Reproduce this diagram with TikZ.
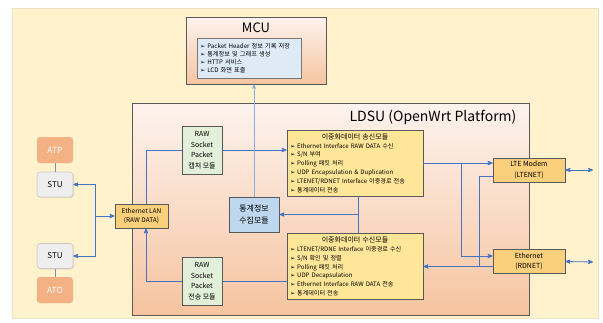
\documentclass[tikz,border=0pt]{standalone}
\usepackage{fontspec}
\setmainfont{Noto Sans CJK KR}
\newfontfamily\symfont{DejaVu Sans}
\usepackage{tikz}
\usetikzlibrary{arrows,shadows}
\definecolor{bg_cream}{RGB}{255,242,204}
\definecolor{bg_edge}{RGB}{236,226,196}
\definecolor{node_gray}{RGB}{89,89,89}
\definecolor{list_gray}{RGB}{120,120,120}
\definecolor{shade_top}{RGB}{253,243,238}
\definecolor{shade_bot}{RGB}{246,196,160}
\definecolor{mcu_blue}{RGB}{222,235,247}
\definecolor{raw_green}{RGB}{226,240,217}
\definecolor{stat_blue}{RGB}{189,215,238}
\definecolor{mod_yellow}{RGB}{255,230,153}
\definecolor{port_orange}{RGB}{251,208,125}
\definecolor{stu_gray}{RGB}{238,238,238}
\definecolor{stu_edge}{RGB}{200,200,200}
\definecolor{train_orange}{RGB}{244,177,131}
\definecolor{edge_blue}{RGB}{68,114,196}
\definecolor{edge_light}{RGB}{143,170,220}
\definecolor{link_gray}{RGB}{120,144,180}
\newcommand{\bul}{{\symfont\char"27A2}~}

\begin{document}
\begin{tikzpicture}[x=1pt,y=-1pt,->,>=stealth',line width=0.8pt]
    \tikzstyle{blk}=[draw=node_gray, rectangle, inner sep=1pt, align=center, text=black, line width=0.8pt]
    \tikzstyle{mcubox}=[style=blk, minimum width=140pt, minimum height=67pt, top color=shade_top, bottom color=shade_bot]
    \tikzstyle{ldsubox}=[style=blk, minimum width=397pt, minimum height=212pt, top color=shade_top, bottom color=shade_bot]
    \tikzstyle{list}=[style=blk, draw=list_gray, fill=mcu_blue, align=left, text width=98pt, inner xsep=3pt, minimum height=40pt, font=\fontsize{6.2}{7.8}\selectfont]
    \tikzstyle{raw}=[style=blk, fill=raw_green, minimum width=40pt, minimum height=48pt, font=\fontsize{7}{10.5}\selectfont]
    \tikzstyle{stat}=[style=blk, fill=stat_blue, minimum width=50pt, minimum height=35pt, font=\fontsize{8}{12}\selectfont]
    \tikzstyle{module}=[style=blk, fill=mod_yellow, align=left, text width=130pt, inner xsep=3pt, inner ysep=1pt, minimum height=66pt, font=\fontsize{6.1}{8.8}\selectfont]
    \tikzstyle{port}=[style=blk, fill=port_orange, minimum width=72pt, minimum height=24pt, font=\fontsize{7}{10.5}\selectfont]
    \tikzstyle{stu}=[draw=stu_edge, fill=stu_gray, rounded corners=3pt, minimum width=36pt, minimum height=25pt, line width=0.6pt, font=\fontsize{8}{8}\selectfont, drop shadow={opacity=0.2, shadow xshift=1pt, shadow yshift=-1pt}]
    \tikzstyle{train}=[fill=train_orange, rounded corners=3pt, minimum width=36pt, minimum height=26pt, text=white, font=\fontsize{8.5}{8.5}\selectfont]
    \tikzstyle{title}=[inner sep=0pt, text=black]
    \tikzstyle{wire}=[draw=edge_blue]
    \tikzstyle{thinwire}=[draw=edge_light, line width=0.6pt]
    \tikzstyle{link}=[-, draw=link_gray, line width=0.8pt]

    \useasboundingbox (0,0) rectangle (603,322);
    \filldraw[-, fill=bg_cream, draw=bg_edge, line width=0.6pt] (12,8) rectangle (598,318);

    % MCU
    \node[mcubox] (mcu) at (256,50.5) {};
    \node[title, font=\fontsize{13}{13}\selectfont] (mcu_t) at (256,28) {MCU};
    \node[list] (mcu_in) at (249,58) {\bul Packet Header 정보 기록 저장\\ \bul 통계정보 및 그래프 생성\\ \bul HTTP 서비스\\ \bul LCD 화면 표출};

    % LDSU
    \node[ldsubox] (ldsu) at (330.5,209) {};
    \node[title, font=\fontsize{14}{14}\selectfont] (ldsu_t) at (433,117) {LDSU (OpenWrt Platform)};

    \node[raw] (cap) at (202,150) {RAW\\Socket\\Packet\\캡처 모듈};
    \node[raw] (tx)  at (202,281) {RAW\\Socket\\Packet\\전송 모듈};
    \node[stat] (stat) at (254,214.5) {통계정보\\수집모듈};
    \node[port, minimum width=53pt, font=\fontsize{6.5}{9}\selectfont] (lan) at (141.5,216) {Ethernet LAN\\(RAW DATA)};

    \node[module] (snd) at (355,163) {\centerline{\fontsize{7}{8}\selectfont 이중화데이터 송신모듈}
      \bul Ethernet Interface RAW DATA 수신\\
      \bul S/N 부여\\
      \bul Polling 패킷 처리\\
      \bul UDP Encapsulation \& Duplication\\
      \bul LTENET/RDNET Interface 이중경로 전송\\
      \bul 통계데이터 전송};
    \node[module] (rcv) at (355,266.5) {\centerline{\fontsize{7}{8}\selectfont 이중화데이터 수신모듈}
      \bul LTENET/RDNE Interface 이중경로 수신\\
      \bul S/N 확인 및 정렬\\
      \bul Polling 패킷 처리\\
      \bul UDP Decapsulation\\
      \bul Ethernet Interface RAW DATA 전송\\
      \bul 통계데이터 전송};

    \node[port] (lte) at (529,170) {LTE Modem\\(LTENET)};
    \node[port] (eth) at (529,261.5) {Ethernet\\(RDNET)};

    % trains
    \node[train] (atp)  at (55,150)   {ATP};
    \node[stu]   (stu1) at (55,184.5) {STU};
    \node[stu]   (stu2) at (55,256)   {STU};
    \node[train] (ato)  at (55,290)   {ATO};

    \coordinate (jn)     at (95,216);
    \coordinate (dn)     at (461,0);
    \coordinate (up)     at (479,0);
    \coordinate (snd_s)  at ([xshift=3pt]snd.south);
    \coordinate (eth_in) at ([yshift=5.5pt]eth.west);
    \coordinate (lte_o)  at ([yshift=-6pt]lte.west);
    \coordinate (lte_x)  at (593,170);
    \coordinate (eth_x)  at (593,262);

    \draw[link] (atp) -- (stu1);
    \draw[link] (stu2) -- (ato);

    \draw[wire] (jn) |- (stu1.east);
    \draw[wire] (jn) |- (stu2.east);
    \draw[wire] (jn) -- (lan.west);

    \draw[wire,-] ([xshift=4.5pt]lan.north) |- (cap.west);
    \draw[wire] (cap.east) -- (cap.east -| snd.west);
    \draw[wire,-] (tx.east -| rcv.west) -- (tx.east);
    \draw[wire] (tx.west) -| ([xshift=4.5pt]lan.south);

    \draw[wire,-] (snd_s) -- (snd_s |- rcv.north);
    \draw[wire] (snd_s |- stat.east) -- (stat.east);
    \draw[thinwire] (stat.north) -- (stat.north |- mcu.south);

    \draw[wire] (snd.east) -- (snd.east -| lte.west);
    \draw[wire] (snd.east -| dn) |- (eth_in);
    \draw[wire] (lte_o) -| (up |- rcv.east) -- (rcv.east);
    \draw[wire,-] (eth.west |- rcv.east) -- (up |- rcv.east);

    \draw[wire,<->] (lte.east) -- (lte_x);
    \draw[wire,<->] (eth.east) -- (eth_x);
\end{tikzpicture}
\end{document}
